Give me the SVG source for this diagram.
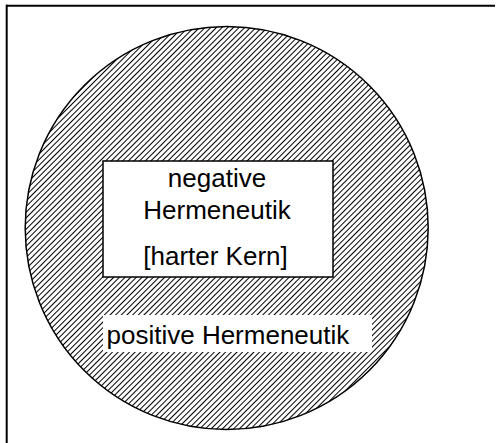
<svg xmlns="http://www.w3.org/2000/svg" width="500" height="443" viewBox="0 0 500 443">
  <style>
    .t { font-family: "Liberation Sans", Arial, sans-serif; font-size: 26px; fill: #000; }
  </style>
  <defs>
    <pattern id="hatch" patternUnits="userSpaceOnUse" width="4" height="4" patternTransform="rotate(45)">
      <rect width="4" height="4" fill="#fff"/>
      <line x1="0.5" y1="0" x2="0.5" y2="4" stroke="#000" stroke-width="1"/>
    </pattern>
  </defs>
  <rect width="500" height="443" fill="#fff"/>
  <g id="frame">
    <line x1="6" y1="5.7" x2="495" y2="5.7" stroke="#000" stroke-width="2"/>
    <line x1="6.7" y1="4.7" x2="6.7" y2="443" stroke="#000" stroke-width="2"/>
  </g>
  <g id="positive">
    <circle cx="226.7" cy="228" r="201.5" fill="url(#hatch)" stroke="#000" stroke-width="1.5"/>
    <rect x="103" y="315" width="269" height="37" fill="#fff"/>
    <text class="t" x="106.5" y="344">positive Hermeneutik</text>
  </g>
  <g id="negative">
    <rect x="103" y="161" width="230" height="116" fill="#fff" stroke="#000" stroke-width="1.5"/>
    <text class="t" x="217" y="187" text-anchor="middle">negative</text>
    <text class="t" x="217" y="218.5" text-anchor="middle">Hermeneutik</text>
    <text class="t" x="215.5" y="264.5" text-anchor="middle">[harter Kern]</text>
  </g>
  <g id="connectors"></g>
</svg>
